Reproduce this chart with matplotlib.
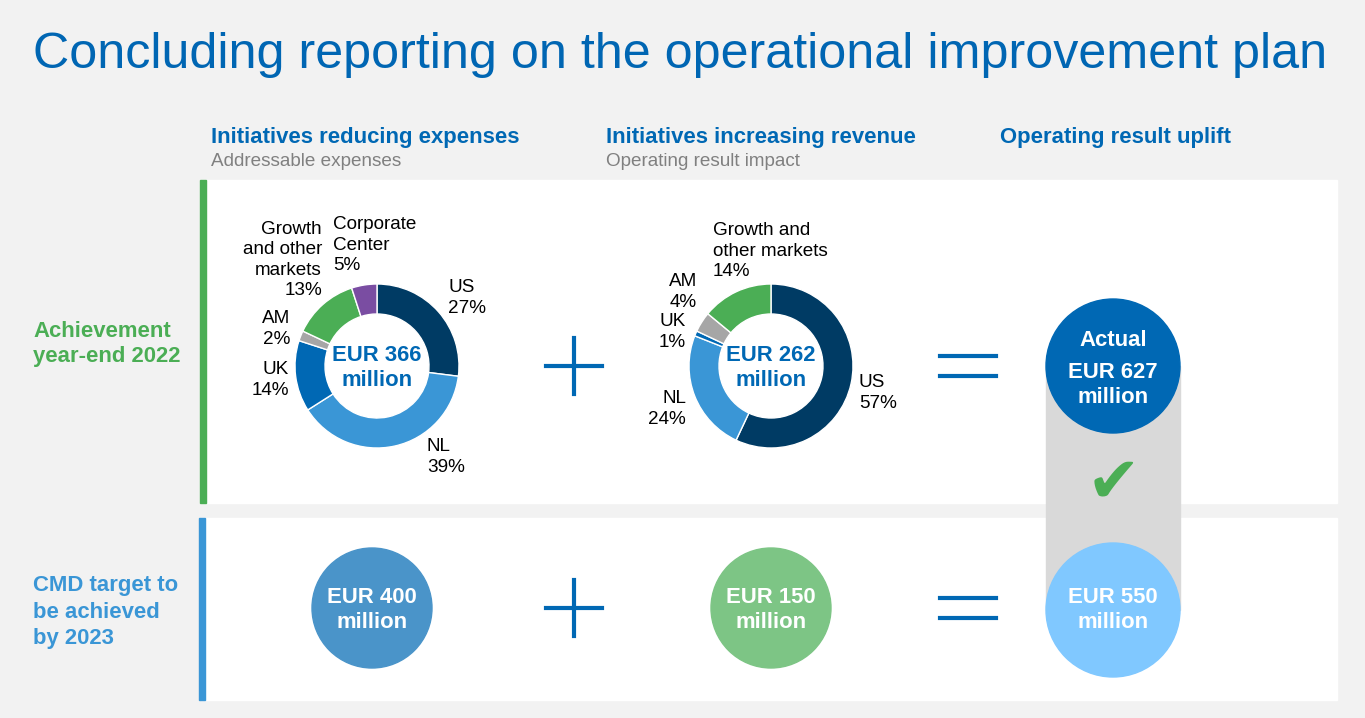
import matplotlib
matplotlib.use('Agg')
import matplotlib.pyplot as plt
from matplotlib.patches import Rectangle, Circle

plt.rcParams['font.family'] = ['Liberation Sans', 'DejaVu Sans']

# data
exp_labels = ['US', 'NL', 'UK', 'AM', 'Growth\nand other\nmarkets', 'Corporate\nCenter']
exp_values = [27, 39, 14, 2, 13, 5]
exp_total = 366
rev_labels = ['US', 'NL', 'UK', 'AM', 'Growth and\nother markets']
rev_values = [57, 24, 1, 4, 14]
rev_total = 262
target_exp = 400
target_rev = 150
target_total = 550
actual_total = 627

seg_colors = ['#003B64', '#3A96D6', '#0068B4', '#A6A6A6', '#4BAE55', '#7A4DA2']
blue = '#0068B4'
H = 718

def Y(y):
    return H - y

fig = plt.figure(figsize=(13.65, 7.18), dpi=100)
fig.patch.set_facecolor('#F2F2F2')
ax = fig.add_axes([0, 0, 1, 1])
ax.set_facecolor('#F2F2F2')

# panels
ax.add_patch(Rectangle((200, Y(503)), 1137, 323, color='white', zorder=0))
ax.add_patch(Rectangle((200, Y(700)), 1137, 182, color='white', zorder=0))
ax.add_patch(Rectangle((200, Y(503)), 6, 323, color='#4BAE55', zorder=1))
ax.add_patch(Rectangle((199, Y(700)), 6, 182, color='#3A96D6', zorder=1))

# title and headers
ax.text(33, Y(55), 'Concluding reporting on the operational improvement plan',
        fontsize=36.2, color='#0066B3', va='center', ha='left')
heads = [(211, 'Initiatives reducing expenses', 'Addressable expenses'),
         (606, 'Initiatives increasing revenue', 'Operating result impact'),
         (1000, 'Operating result uplift', '')]
for x, h, s in heads:
    ax.text(x, Y(138), h, fontsize=15.9, fontweight='bold', color=blue, va='center')
    ax.text(x, Y(162), s, fontsize=13.6, color='#808080', va='center')

ax.text(33, Y(344), 'Achievement\nyear-end 2022', fontsize=15.9, fontweight='bold',
        color='#4BAE55', va='center', linespacing=1.3)
ax.text(33, Y(612), 'CMD target to\nbe achieved\nby 2023', fontsize=15.9, fontweight='bold',
        color='#3A96D6', va='center', linespacing=1.33)

# donuts
wp = dict(width=30, edgecolor='white', linewidth=1)
ax.pie(exp_values, center=(377, Y(366)), radius=82, startangle=90, counterclock=False,
       colors=seg_colors[:len(exp_values)], wedgeprops=wp)
ax.pie(rev_values, center=(771, Y(366)), radius=82, startangle=90, counterclock=False,
       colors=seg_colors[:len(rev_values)], wedgeprops=wp)

ax.text(377, Y(368), 'EUR %d\nmillion' % exp_total, fontsize=15.9, fontweight='bold',
        color=blue, ha='center', va='center', linespacing=1.24)
ax.text(771, Y(368), 'EUR %d\nmillion' % rev_total, fontsize=15.9, fontweight='bold',
        color=blue, ha='center', va='center', linespacing=1.24)

# slice labels (positions picked by hand)
exp_pos = [(448, 298, 'left'), (427, 457, 'left'), (289, 380, 'right'),
           (290, 329, 'right'), (322, 260, 'right'), (333, 245, 'left')]
for lab, v, (x, y, ha) in zip(exp_labels, exp_values, exp_pos):
    ax.text(x, Y(y), '%s\n%d%%' % (lab, v), fontsize=13.6, ha=ha, va='center',
            color='black', linespacing=1.26)
rev_pos = [(859, 393, 'left'), (686, 409, 'right'), (686, 332, 'right'),
           (697, 292, 'right'), (713, 251, 'left')]
for lab, v, (x, y, ha) in zip(rev_labels, rev_values, rev_pos):
    ax.text(x, Y(y), '%s\n%d%%' % (lab, v), fontsize=13.6, ha=ha, va='center',
            color='black', linespacing=1.26)

# plus / equals signs
for yc in [366, 608]:
    ax.plot([546, 602], [Y(yc), Y(yc)], color=blue, lw=3)
    ax.plot([574, 574], [Y(yc - 28), Y(yc + 28)], color=blue, lw=3)
    ax.plot([940, 996], [Y(yc - 10), Y(yc - 10)], color=blue, lw=3)
    ax.plot([940, 996], [Y(yc + 10), Y(yc + 10)], color=blue, lw=3)

# target circles
ax.add_patch(Circle((372, Y(608)), 60, color='#4A94C9', zorder=2))
ax.add_patch(Circle((771, Y(608)), 60, color='#7DC585', zorder=2))
ax.text(372, Y(610), 'EUR %d\nmillion' % target_exp, fontsize=15.9, fontweight='bold',
        color='white', ha='center', va='center', linespacing=1.24, zorder=3)
ax.text(771, Y(610), 'EUR %d\nmillion' % target_rev, fontsize=15.9, fontweight='bold',
        color='white', ha='center', va='center', linespacing=1.24, zorder=3)

# uplift column
ax.add_patch(Rectangle((1046, Y(610)), 134, 244, color='#D9D9D9', zorder=2))
ax.add_patch(Circle((1113, Y(366)), 67, color=blue, zorder=3))
ax.add_patch(Circle((1113, Y(610)), 67, color='#80C8FF', zorder=3))
ax.text(1113, Y(340), 'Actual', fontsize=15.9, fontweight='bold', color='white',
        ha='center', va='center', zorder=4)
ax.text(1113, Y(385), 'EUR %d\nmillion' % actual_total, fontsize=15.9, fontweight='bold',
        color='white', ha='center', va='center', linespacing=1.24, zorder=4)
ax.text(1113, Y(610), 'EUR %d\nmillion' % target_total, fontsize=15.9, fontweight='bold',
        color='white', ha='center', va='center', linespacing=1.24, zorder=4)
ax.text(1113, Y(483), '\u2714', family='DejaVu Sans', fontsize=46, color='#4BAE55',
        ha='center', va='center', zorder=4)

ax.set_xlim(0, 1365)
ax.set_ylim(0, H)
ax.set_aspect('auto')
ax.axis('off')

plt.savefig('out.png', dpi=100, facecolor=fig.get_facecolor())
